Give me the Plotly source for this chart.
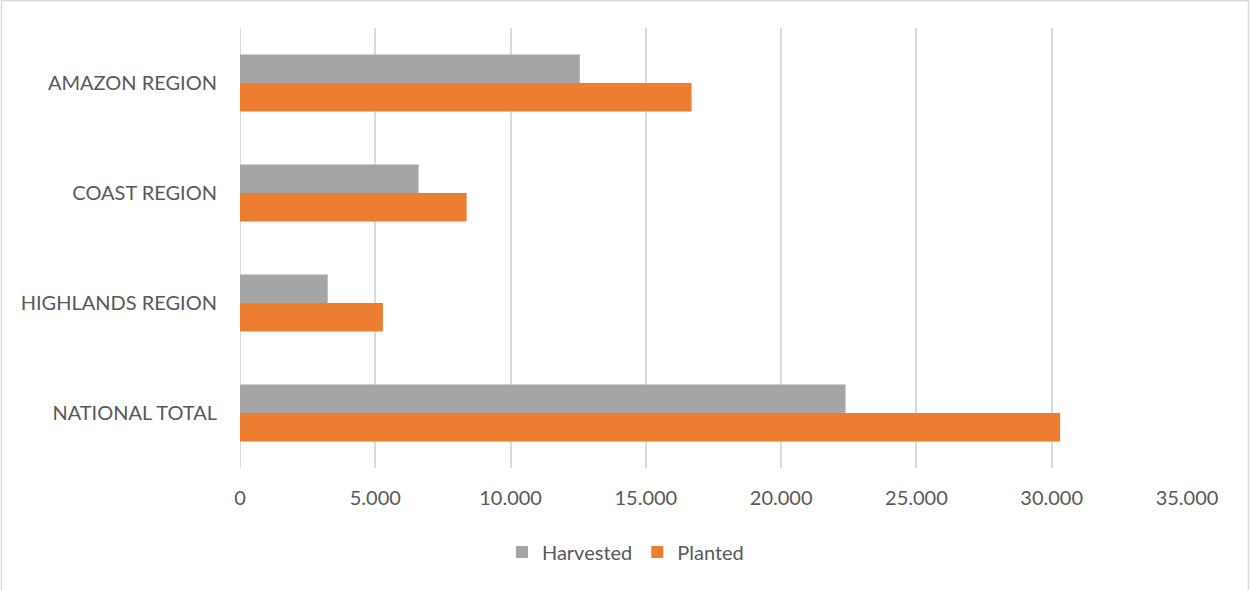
import plotly.graph_objects as go

# Regions, listed bottom to top as they appear on the category axis
regions = ["NATIONAL TOTAL", "HIGHLANDS REGION", "COAST REGION", "AMAZON REGION"]
harvested = [22380, 3240, 6600, 12560]
planted = [30310, 5280, 8375, 16690]

GREY = "#A5A5A5"
ORANGE = "#ED7D31"
TEXT = "#595959"
GRID = "#D9D9D9"
FONT = "Lato, Open Sans, sans-serif"

fig = go.Figure()
# Planted is added first so it sits below Harvested inside each group
fig.add_trace(go.Bar(y=regions, x=planted, name="Planted", orientation="h",
                     marker=dict(color=ORANGE, line=dict(width=0))))
fig.add_trace(go.Bar(y=regions, x=harvested, name="Harvested", orientation="h",
                     marker=dict(color=GREY, line=dict(width=0))))

# Plot area spans x 240..1187 px and y 28..468 px
px_w, px_h = 947, 440
def xp(px):
    return (px - 240) / px_w
def yp(py):
    return (468 - py) / px_h

fig.update_layout(
    width=1251, height=590,
    margin=dict(l=240, r=64, t=28, b=122),
    paper_bgcolor="white", plot_bgcolor="white",
    barmode="group", bargap=0.48, bargroupgap=0,
    separators=",.",
    font=dict(family=FONT, size=20, color=TEXT),
    showlegend=True,
    legend=dict(orientation="h", traceorder="reversed",
                x=0.407, xanchor="center", y=yp(552), yanchor="middle",
                font=dict(family=FONT, size=20, color=TEXT),
                itemwidth=30, bgcolor="rgba(0,0,0,0)"),
    xaxis=dict(range=[0, 35000], dtick=5000, tickformat=",d",
               showgrid=True, gridcolor=GRID, gridwidth=2,
               zeroline=False, showline=False, ticks="",
               ticklabelstandoff=16,
               tickfont=dict(family=FONT, size=20, color=TEXT)),
    yaxis=dict(categoryorder="array", categoryarray=regions,
               showgrid=False, zeroline=False, showline=False, ticks="",
               ticklabelstandoff=22,
               tickfont=dict(family=FONT, size=20, color=TEXT)),
    shapes=[
        # zero line of the value axis
        dict(type="line", xref="x", yref="paper", x0=0, x1=0, y0=0, y1=1,
             line=dict(color=GRID, width=2), layer="below"),
        # chart border (bottom edge runs past the page)
        dict(type="rect", xref="paper", yref="paper",
             x0=xp(1.5), x1=xp(1248.5), y0=yp(596), y1=yp(0.5),
             line=dict(color=GRID, width=1.5), fillcolor="rgba(0,0,0,0)"),
    ],
)

fig.write_html("out.html")
